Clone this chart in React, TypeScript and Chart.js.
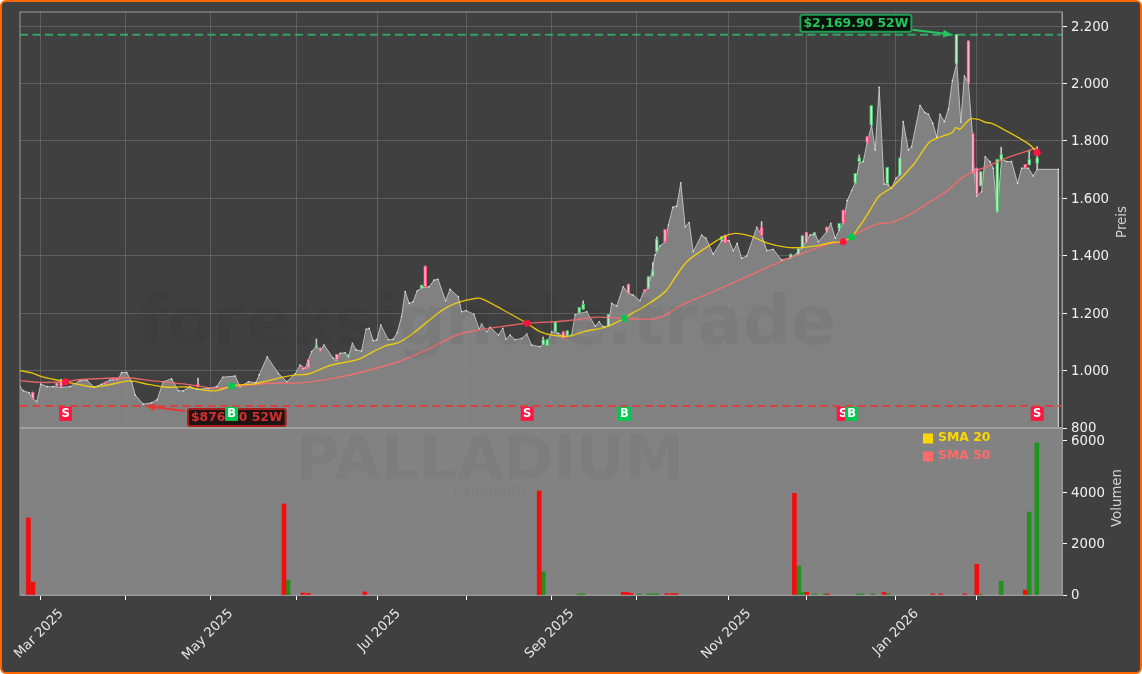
import { useEffect, useRef } from 'react';
import { Chart, registerables } from 'chart.js';

Chart.register(...registerables);

// x axis is counted in trading days from the first bar
const areaDays = [
  0, 0.8, 2.3, 3, 4.2, 5.2, 6.8, 8.3, 10.4, 12.5, 15, 16.7, 18.5, 20.4, 22.5, 24.6, 25.4, 26.7, 27.9, 28.8,
  30.8, 32.9, 34.3, 35.8, 37.9, 39.6, 40.8, 42.5, 44.2, 47.1, 49.2, 50.7, 53.8, 55, 57.1, 59, 59.8, 61.8, 64.6, 66.7,
  68.8, 70, 71.3, 72.9, 74, 75.2, 76, 78.3, 79, 80, 81.3, 82.1, 83.1, 84, 85.4, 86.5, 87.3, 88.3, 89.2, 90.2,
  92.1, 93.3, 94.3, 95.4, 96.3, 97.3, 98.3, 99.3, 100.8, 102.3, 103.5, 104.5, 106.4, 107.5, 109.6, 110.4, 111.5, 113.5, 114.8, 115.4,
  116.7, 117.5, 119.6, 120.7, 121.5, 122.5, 123.8, 125.4, 126.7, 127.9, 130, 130.8, 132.1, 132.9, 134.6, 135.8, 137.9, 138.8, 141.7, 143.8,
  144.8, 145.8, 147.1, 147.9, 149.2, 150.8, 152.1, 153.3, 155, 156, 157.1, 158.8, 160, 161.3, 162.1, 163.2, 164.2, 165.2, 166.3, 167.3,
  168.3, 170.4, 171.5, 173.3, 175.4, 176.3, 177.3, 178.3, 179.3, 180.4, 181.7, 184.2, 185.4, 186.7, 188.3, 190.4, 192.5, 194.2, 195.4, 197.5,
  198.8, 199.6, 201.7, 202.7, 203.8, 204.8, 205.8, 206.8, 207.9, 208.8, 209.8, 210.8, 211.8, 212.9, 213.8, 214.8, 216, 217.1, 217.9, 219,
  219.8, 220.8, 222.1, 222.9, 225, 226.3, 227.1, 228.2, 229.2, 230, 231.1, 232.1, 233.1, 234.2, 235.2, 236.1, 237.1, 238.1, 238.5, 239.2,
  240.4, 241.3, 242.5, 243.3, 244.3, 245.4, 246.7, 247.9, 249.4, 250.4, 252.1, 253.3, 254.3, 259.6, 259.6,
];
const areaPrices = [
  944, 930, 923, 905, 892, 953, 944, 944, 942, 944, 965, 967, 942, 952, 967, 970, 993, 993, 961, 915,
  883, 888, 898, 961, 971, 930, 929, 944, 935, 938, 944, 977, 981, 944, 961, 958, 985, 1048, 990, 961,
  988, 1019, 1008, 1066, 1083, 1072, 1089, 1043, 1037, 1060, 1062, 1048, 1095, 1072, 1068, 1144, 1147, 1104, 1107, 1159,
  1107, 1109, 1132, 1188, 1275, 1234, 1240, 1278, 1290, 1292, 1315, 1318, 1243, 1283, 1257, 1205, 1209, 1196, 1144, 1162,
  1135, 1151, 1124, 1147, 1109, 1124, 1107, 1112, 1127, 1089, 1083, 1092, 1107, 1135, 1130, 1118, 1124, 1195, 1205, 1155,
  1170, 1153, 1155, 1234, 1225, 1292, 1269, 1263, 1243, 1278, 1287, 1403, 1434, 1449, 1507, 1569, 1573, 1654, 1501, 1516,
  1414, 1472, 1461, 1405, 1452, 1455, 1452, 1417, 1443, 1391, 1399, 1499, 1472, 1418, 1422, 1385, 1392, 1408, 1426, 1472,
  1476, 1449, 1484, 1513, 1461, 1490, 1513, 1592, 1627, 1654, 1722, 1728, 1794, 1855, 1768, 1987, 1650, 1646, 1635, 1670,
  1681, 1867, 1768, 1780, 1923, 1898, 1893, 1861, 1813, 1893, 1867, 1910, 2010, 2070, 1865, 2026, 2001, 1826, 1699, 1608,
  1623, 1745, 1728, 1705, 1553, 1737, 1728, 1728, 1652, 1705, 1705, 1678, 1701, 1701, 800,
];

const sma20Days = [
  0, 2.9, 5.8, 8.3, 11.4, 14.6, 18.3, 21.7, 27.5, 32.1, 36.7, 41.7, 45.8, 49.2, 52.5, 55.4, 58.3, 62.1, 65.8, 68.8,
  72.1, 76.7, 80.4, 84.6, 88.3, 91.7, 94.6, 98.3, 105.4, 109.2, 114.2, 115.8, 120.8, 126.7, 130, 133.3, 137.5, 140.8, 146.7, 151.1,
  153.3, 155.4, 161.3, 164.2, 166.7, 170, 175.8, 178.8, 182.5, 186.7, 191.7, 195.8, 200, 203.3, 205.8, 207.9, 210.4, 212.5, 214.8, 217.9,
  223.3, 227.1, 229.2, 233, 234, 235, 237.5, 239.6, 241.3, 242.9, 245.4, 249.2, 252.3, 254.3,
];
const sma20Values = [
  1000, 992, 977, 970, 961, 952, 943, 949, 964, 952, 942, 943, 932, 930, 944, 951, 953, 965, 977, 985,
  988, 1014, 1027, 1039, 1066, 1088, 1097, 1130, 1209, 1236, 1252, 1248, 1211, 1165, 1136, 1123, 1120, 1135, 1153, 1182,
  1202, 1217, 1275, 1333, 1379, 1414, 1466, 1478, 1469, 1445, 1429, 1429, 1437, 1447, 1449, 1466, 1513, 1559, 1608, 1638,
  1716, 1792, 1809, 1829, 1846, 1841, 1876, 1875, 1865, 1861, 1844, 1815, 1788, 1760,
];

const sma50Days = [
  0, 5, 11.4, 14.6, 20, 26.7, 33.3, 41.7, 48.3, 52.9, 62.5, 70.8, 78.3, 85.8, 94.3, 101.7, 109.2, 115, 121.7, 126.8,
  133.3, 140, 144.2, 151.3, 157.5, 160.8, 165.4, 173.3, 181.7, 190, 197.5, 201.7, 205.8, 211.7, 214.6, 217.9, 222.5, 227.5, 231.7, 235,
  237.5, 240.8, 245.8, 249.2, 254.3,
];
const sma50Values = [
  965, 959, 961, 968, 972, 975, 964, 952, 939, 944, 956, 958, 973, 996, 1030, 1072, 1124, 1142, 1156, 1165,
  1170, 1179, 1186, 1182, 1179, 1190, 1228, 1275, 1327, 1379, 1418, 1440, 1451, 1496, 1511, 1516, 1544, 1588, 1625, 1666,
  1689, 1705, 1736, 1753, 1776,
];

const candleDays = [
  3.2, 9.2, 10.25, 21.25, 23.25, 24.25, 44.5, 70.75, 72.1, 74.1, 75.1, 79.2, 82.1, 100.4, 101.3, 130.8, 131.8, 133.8, 135.8, 136.8,
  139.8, 140.8, 147.1, 152.1, 156.25, 157.1, 158.2, 159.2, 161.25, 175.4, 176.3, 185.4, 192.7, 194.6, 195.6, 196.6, 198.6, 201.7, 204.8, 205.8,
  208.8, 209.8, 211.8, 212.8, 216.8, 220, 234.1, 237.1, 238.2, 239.2, 240.2, 244.3, 245.3, 251.3, 252.3, 254.3,
];
const candleOpens = [
  925, 957, 964, 960, 974, 974, 953, 1011, 1039, 1079, 1079, 1057, 1047, 1286, 1364, 1091, 1087, 1135, 1135, 1120,
  1200, 1213, 1153, 1301, 1282, 1287, 1329, 1414, 1492, 1455, 1472, 1499, 1392, 1403, 1429, 1482, 1469, 1500, 1493, 1559,
  1654, 1728, 1815, 1855, 1650, 1681, 2067, 2149, 1826, 1705, 1643, 1553, 1733, 1718, 1716, 1722,
];
const candleCloses = [
  901, 946, 943, 953, 967, 967, 943, 1002, 1008, 1087, 1068, 1037, 1056, 1298, 1292, 1108, 1109, 1171, 1112, 1139,
  1220, 1231, 1196, 1269, 1274, 1327, 1348, 1458, 1449, 1467, 1445, 1470, 1406, 1426, 1470, 1445, 1481, 1486, 1513, 1515,
  1687, 1742, 1794, 1923, 1708, 1741, 2171, 2001, 1687, 1612, 1693, 1736, 1753, 1705, 1736, 1741,
];
const candleLows = [
  901, 946, 943, 953, 967, 967, 943, 1002, 1008, 1079, 1068, 1037, 1047, 1286, 1292, 1091, 1087, 1135, 1112, 1120,
  1200, 1213, 1153, 1269, 1274, 1287, 1329, 1414, 1449, 1455, 1445, 1470, 1392, 1403, 1429, 1445, 1469, 1486, 1493, 1515,
  1654, 1728, 1794, 1855, 1650, 1681, 2067, 2001, 1687, 1612, 1643, 1553, 1733, 1705, 1716, 1701,
];
const candleHighs = [
  925, 957, 970, 960, 974, 974, 974, 1011, 1039, 1110, 1079, 1057, 1056, 1298, 1364, 1117, 1109, 1171, 1135, 1139,
  1220, 1243, 1196, 1301, 1282, 1327, 1376, 1466, 1492, 1467, 1472, 1519, 1406, 1426, 1470, 1482, 1481, 1500, 1513, 1559,
  1687, 1751, 1815, 1923, 1708, 1741, 2171, 2149, 1826, 1705, 1693, 1736, 1778, 1718, 1768, 1780,
];

const sellDays = [11.4, 126.8, 205.8, 254.3];
const sellPrices = [961, 1165, 1449, 1760];
const buyDays = [52.9, 151.1, 207.9];
const buyPrices = [946, 1182, 1465];

const redVolumeDays = [2.1, 3.25, 66, 70.75, 72.1, 86.2, 129.8, 150.8, 151.8, 152.8, 161.7, 163, 164, 193.6, 196.7, 201.9, 216, 228.2, 230.2, 236.2, 239.2, 251.3];
const redVolumes = [3000, 500, 3545, 80, 60, 120, 4050, 100, 100, 60, 50, 50, 50, 3960, 100, 40, 100, 40, 40, 40, 1200, 190];
const greenVolumeDays = [67, 130.8, 139.8, 140.8, 154.8, 157, 158.2, 159.2, 194.7, 195.7, 198.7, 201.2, 209.5, 210.5, 213.2, 217, 240.2, 245.3, 252.3, 254.2];
const greenVolumes = [580, 900, 40, 40, 40, 40, 40, 40, 1130, 100, 40, 40, 40, 40, 40, 40, 30, 540, 3230, 5930];

const tickDays = [5.1, 26.25, 47.5, 69.1, 89.4, 111.5, 132.75, 154, 177, 196.6, 218.9, 239.1];
const tickLabels = ['Mar 2025', '', 'May 2025', '', 'Jul 2025', '', 'Sep 2025', '', 'Nov 2025', '', 'Jan 2026', ''];
const volumeTicks = [0, 2000, 4000, 6000];

const LAST_DAY = 260.5;
const HIGH_52W = 2169.9;
const LOW_52W = 876.5;
const BADGE_PRICE = 849;

const GREEN = '#22c55e';
const RED = '#d32f2f';
const SMA20_COLOR = '#FFD700';
const SMA50_COLOR = '#FF6B6B';

const points = (xs: number[], ys: number[]) => xs.map((x, i) => ({ x, y: ys[i] }));
const isUp = (i: number) => candleCloses[i] >= candleOpens[i];

const arrow = (ctx: CanvasRenderingContext2D, x0: number, y0: number, x1: number, y1: number, color: string) => {
  const a = Math.atan2(y1 - y0, x1 - x0);
  ctx.strokeStyle = color;
  ctx.fillStyle = color;
  ctx.lineWidth = 2;
  ctx.beginPath();
  ctx.moveTo(x0, y0);
  ctx.lineTo(x1 - 7 * Math.cos(a), y1 - 7 * Math.sin(a));
  ctx.stroke();
  ctx.beginPath();
  ctx.moveTo(x1, y1);
  ctx.lineTo(x1 - 10 * Math.cos(a - 0.4), y1 - 10 * Math.sin(a - 0.4));
  ctx.lineTo(x1 - 10 * Math.cos(a + 0.4), y1 - 10 * Math.sin(a + 0.4));
  ctx.closePath();
  ctx.fill();
};

const labelBox = (ctx: CanvasRenderingContext2D, left: number, top: number, text: string, color: string, edge: string, fill: string) => {
  ctx.font = 'bold 12.4px "DejaVu Sans"';
  const w = ctx.measureText(text).width + 6;
  ctx.beginPath();
  ctx.roundRect(left, top, w, 17, 2);
  ctx.fillStyle = fill;
  ctx.fill();
  ctx.strokeStyle = edge;
  ctx.lineWidth = 2;
  ctx.stroke();
  ctx.fillStyle = color;
  ctx.textAlign = 'left';
  ctx.textBaseline = 'middle';
  ctx.fillText(text, left + 3, top + 9);
};

// volume pane background sits under the bars, frame around the whole plot
const panePlugin = {
  id: 'panes',
  beforeDatasetsDraw(chart: any) {
    const { ctx, chartArea, scales } = chart;
    ctx.save();
    ctx.fillStyle = '#828282';
    ctx.fillRect(chartArea.left, scales.yVol.top, chartArea.right - chartArea.left, scales.yVol.bottom - scales.yVol.top);
    ctx.strokeStyle = '#999999';
    ctx.lineWidth = 1;
    ctx.strokeRect(chartArea.left, chartArea.top, chartArea.right - chartArea.left, chartArea.bottom - chartArea.top);
    ctx.restore();
  },
};

const overlayPlugin = {
  id: 'overlay',
  afterDatasetsDraw(chart: any) {
    const { ctx, chartArea, scales } = chart;
    const { x, y, yVol } = scales;
    ctx.save();

    // pane separator
    ctx.strokeStyle = '#a0a0a0';
    ctx.lineWidth = 2;
    ctx.beginPath();
    ctx.moveTo(chartArea.left, yVol.top);
    ctx.lineTo(chartArea.right, yVol.top);
    ctx.stroke();

    // watermarks
    ctx.textAlign = 'center';
    ctx.textBaseline = 'middle';
    ctx.fillStyle = 'rgba(0,0,0,0.045)';
    ctx.font = 'bold 67px "DejaVu Sans"';
    ctx.fillText('forexsignale.trade', 487, 327);
    ctx.fillStyle = 'rgba(0,0,0,0.03)';
    ctx.font = 'bold 60px "DejaVu Sans"';
    ctx.fillText('PALLADIUM', 490, 463);
    ctx.font = '15px "DejaVu Sans"';
    ctx.fillText('Palladium', 490, 491);

    // 52 week labels
    const hx = x.getPixelForValue(233.1);
    const hy = y.getPixelForValue(HIGH_52W);
    arrow(ctx, hx - 40, hy - 5, hx, hy, GREEN);
    labelBox(ctx, hx - 152, hy - 20, '$2,169.90 52W', GREEN, '#1f9d55', 'rgba(0,10,0,0.85)');
    const lx = x.getPixelForValue(31.5);
    const ly = y.getPixelForValue(LOW_52W);
    arrow(ctx, lx + 39, ly + 5, lx, ly, '#e53935');
    labelBox(ctx, lx + 42, ly + 3, '$876.50 52W', RED, '#a8201c', 'rgba(15,0,0,0.85)');

    // buy and sell badges
    const badge = (day: number, text: string, color: string) => {
      const bx = x.getPixelForValue(day);
      const by = y.getPixelForValue(BADGE_PRICE);
      ctx.fillStyle = color;
      ctx.fillRect(bx - 6.5, by - 7, 13, 14);
      ctx.fillStyle = '#ffffff';
      ctx.font = 'bold 11.5px "DejaVu Sans"';
      ctx.textAlign = 'center';
      ctx.textBaseline = 'middle';
      ctx.fillText(text, bx, by + 0.5);
    };
    sellDays.forEach((d) => badge(d, 'S', '#ff1744'));
    buyDays.forEach((d) => badge(d, 'B', '#00c853'));

    // legend
    const legend: [string, string, number][] = [['SMA 20', SMA20_COLOR, 438], ['SMA 50', SMA50_COLOR, 456]];
    legend.forEach(([text, color, ly2]) => {
      ctx.fillStyle = color;
      ctx.fillRect(923, ly2 - 4.5, 10, 10);
      ctx.font = 'bold 12.4px "DejaVu Sans"';
      ctx.textAlign = 'left';
      ctx.textBaseline = 'middle';
      ctx.fillText(text, 938, ly2);
    });

    // axis titles, they read bottom to top
    ctx.fillStyle = '#d0d0d0';
    ctx.font = '13.3px "DejaVu Sans"';
    ctx.textAlign = 'center';
    ctx.textBaseline = 'middle';
    const title = (text: string, tx: number, ty: number) => {
      ctx.save();
      ctx.translate(tx, ty);
      ctx.rotate(-Math.PI / 2);
      ctx.fillText(text, 0, 0);
      ctx.restore();
    };
    title('Preis', 1123, 222);
    title('Volumen', 1118, 498);
    ctx.restore();
  },
};

const App = () => {
  const canvasRef = useRef<HTMLCanvasElement>(null);

  useEffect(() => {
    if (!canvasRef.current) return;
    document.body.style.margin = '0';

    const chart = new Chart(canvasRef.current, {
      type: 'line',
      data: {
        datasets: [
          {
            data: points(areaDays, areaPrices),
            yAxisID: 'y',
            borderColor: 'rgba(205,205,205,0.85)',
            borderWidth: 1,
            backgroundColor: 'rgba(135,135,135,0.93)',
            fill: 'start',
            tension: 0,
            pointRadius: 0.8,
            pointBorderWidth: 0,
            pointBackgroundColor: '#e8e8e8',
            order: 10,
          },
          {
            data: [{ x: 0, y: HIGH_52W }, { x: LAST_DAY, y: HIGH_52W }],
            yAxisID: 'y',
            borderColor: 'rgba(46,204,113,0.7)',
            borderWidth: 2,
            borderDash: [8, 4.5],
            pointRadius: 0,
            order: 9,
          },
          {
            data: [{ x: 0, y: LOW_52W }, { x: LAST_DAY, y: LOW_52W }],
            yAxisID: 'y',
            borderColor: 'rgba(229,57,53,0.85)',
            borderWidth: 2,
            borderDash: [8, 4.5],
            pointRadius: 0,
            order: 9,
          },
          {
            type: 'bar',
            data: candleDays.map((d, i) => ({ x: d, y: [candleLows[i], candleHighs[i]] })),
            yAxisID: 'y',
            backgroundColor: '#c8c8c8',
            barThickness: 1,
            grouped: false,
            order: 8,
          },
          {
            type: 'bar',
            data: candleDays.map((d, i) => ({ x: d, y: [candleOpens[i], candleCloses[i]] })),
            yAxisID: 'y',
            backgroundColor: candleDays.map((_, i) => (isUp(i) ? '#bcebc8' : '#ffb3c8')),
            borderColor: candleDays.map((_, i) => (isUp(i) ? '#4ec46f' : '#ff4d7d')),
            borderWidth: 1,
            borderSkipped: false,
            barThickness: 3,
            grouped: false,
            order: 7,
          },
          {
            data: points(sma20Days, sma20Values),
            yAxisID: 'y',
            borderColor: 'rgba(255,215,0,0.85)',
            borderWidth: 1.4,
            tension: 0.3,
            pointRadius: 0,
            order: 5,
          },
          {
            data: points(sma50Days, sma50Values),
            yAxisID: 'y',
            borderColor: 'rgba(255,107,107,0.85)',
            borderWidth: 1.4,
            tension: 0.3,
            pointRadius: 0,
            order: 6,
          },
          {
            data: points(sellDays, sellPrices),
            yAxisID: 'y',
            showLine: false,
            pointRadius: 3.5,
            pointBorderWidth: 0,
            pointBackgroundColor: '#ff1744',
            order: 3,
          },
          {
            data: points(buyDays, buyPrices),
            yAxisID: 'y',
            showLine: false,
            pointRadius: 3.5,
            pointBorderWidth: 0,
            pointBackgroundColor: '#00c853',
            order: 3,
          },
          {
            type: 'bar',
            data: points(redVolumeDays, redVolumes),
            yAxisID: 'yVol',
            backgroundColor: '#f40d0d',
            barThickness: 4,
            grouped: false,
            order: 2,
          },
          {
            type: 'bar',
            data: points(greenVolumeDays, greenVolumes),
            yAxisID: 'yVol',
            backgroundColor: '#1f931f',
            barThickness: 4,
            grouped: false,
            order: 2,
          },
        ],
      },
      options: {
        responsive: false,
        animation: false,
        devicePixelRatio: 1,
        layout: { padding: { left: 20, top: 12, right: 0, bottom: 0 } },
        plugins: { legend: { display: false }, tooltip: { enabled: false } },
        scales: {
          x: {
            type: 'linear',
            offset: false,
            min: 0,
            max: LAST_DAY,
            afterFit: (scale: any) => {
              scale.height = 79;
              scale.paddingLeft = 0;
              scale.paddingRight = 0;
            },
            afterBuildTicks: (scale: any) => {
              scale.ticks = tickDays.map((value) => ({ value }));
            },
            grid: { offset: false, color: 'rgba(255,255,255,0.16)', tickColor: '#ffffff', tickLength: 5 },
            border: { color: '#999999' },
            ticks: {
              autoSkip: false,
              minRotation: 45,
              maxRotation: 45,
              labelOffset: 21,
              padding: 6,
              color: '#e6e6e6',
              font: { family: '"DejaVu Sans"', size: 13.3 },
              callback: (value: any) => tickLabels[tickDays.indexOf(value)],
            },
          },
          y: {
            position: 'right',
            stack: 'panes',
            stackWeight: 416,
            min: 800,
            max: 2249,
            afterFit: (scale: any) => {
              scale.width = 80;
            },
            grid: { color: 'rgba(255,255,255,0.16)', tickColor: '#ffffff', tickLength: 5 },
            border: { color: '#999999' },
            ticks: {
              autoSkip: false,
              stepSize: 200,
              includeBounds: false,
              padding: 4,
              labelOffset: 1,
              color: '#f0f0f0',
              font: { family: '"DejaVu Sans"', size: 13.3 },
              callback: (value: any) => Number(value).toLocaleString('de-DE'),
            },
          },
          yVol: {
            position: 'right',
            stack: 'panes',
            stackWeight: 167,
            min: 0,
            max: 6505,
            afterFit: (scale: any) => {
              scale.width = 80;
            },
            afterBuildTicks: (scale: any) => {
              scale.ticks = volumeTicks.map((value) => ({ value }));
            },
            grid: { drawOnChartArea: false, tickColor: '#ffffff', tickLength: 5 },
            border: { color: '#999999' },
            ticks: {
              autoSkip: false,
              padding: 4,
              labelOffset: 1,
              color: '#f0f0f0',
              font: { family: '"DejaVu Sans"', size: 13.3 },
              callback: (value: any) => String(value),
            },
          },
        },
      },
      plugins: [panePlugin, overlayPlugin],
    } as any);

    return () => {
      chart.destroy();
    };
  }, []);

  return (
    <div style={{ position: 'fixed', left: 0, top: 0, width: 1142, height: 674, background: '#ffffff' }}>
      <div
        style={{
          position: 'absolute',
          inset: 0,
          boxSizing: 'border-box',
          border: '2px solid #ff6600',
          borderRadius: 6,
          background: '#404040',
        }}
      />
      <canvas ref={canvasRef} width={1142} height={674} style={{ position: 'absolute', left: 0, top: 0 }} />
    </div>
  );
};

export default App;
